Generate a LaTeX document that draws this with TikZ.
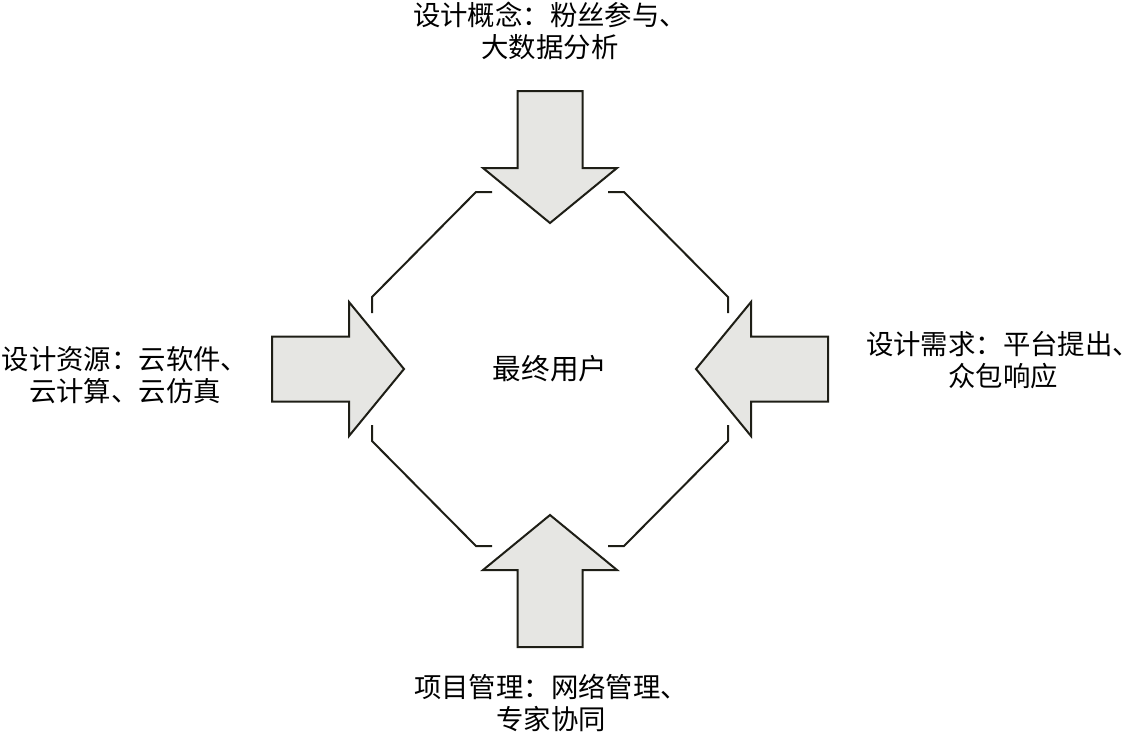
\documentclass[tikz,border=0pt]{standalone}
\usepackage{fontspec}
\setmainfont{Noto Sans CJK SC}
\definecolor{arrowgray}{HTML}{E6E6E3}
\definecolor{linedark}{HTML}{1E1E16}
\begin{document}
\begin{tikzpicture}[x=0.5pt,y=-0.5pt,
	bigarrow/.style={draw=linedark, fill=arrowgray, line width=1pt, line join=miter},
	ring/.style={draw=linedark, line width=1pt},
	label/.style={align=center, inner sep=0pt, font=\fontsize{13.7}{16}\selectfont}]
\useasboundingbox (0,0) rectangle (1138,735);
\node[label, font=\fontsize{14.3}{16}\selectfont] (user) at (550,369) {最终用户};
\begin{scope}[shift={(user.center)}]
% open octagon round the user
\foreach \sx/\sy in {1/1, 1/-1, -1/1, -1/-1}
	\draw[ring] (\sx*58,\sy*177) -- (\sx*74,\sy*177) -- (\sx*178,\sy*72) -- (\sx*178,\sy*56);
% four arrows pointing in
\foreach \r in {0,90,180,270}
	\draw[bigarrow, rotate=\r] (-278,-32.5) -- (-201,-32.5) -- (-201,-67) -- (-146,0)
		-- (-201,67) -- (-201,32.5) -- (-278,32.5) -- cycle;
\end{scope}
\node[label] (concept) at (550,31) {设计概念：粉丝参与、\\大数据分析};
\node[label] (resource) at (125,375) {设计资源：云软件、\\云计算、云仿真};
\node[label] (demand) at (1003,360) {设计需求：平台提出、\\众包响应};
\node[label] (manage) at (551,703) {项目管理：网络管理、\\专家协同};
\end{tikzpicture}
\end{document}
